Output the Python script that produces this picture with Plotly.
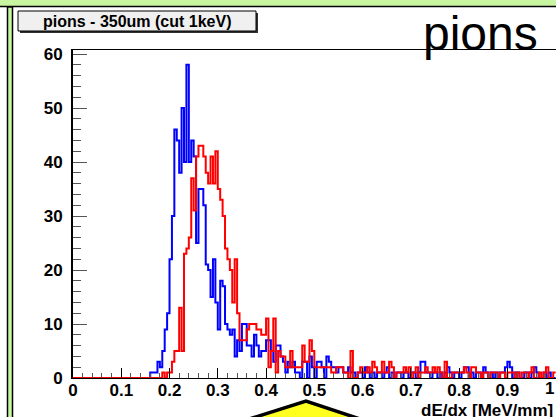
import plotly.graph_objects as go

# ---------------- data ----------------
bin_width = 0.005
n_bins = 200
x_ticks = [0, 0.1, 0.2, 0.3, 0.4, 0.5, 0.6, 0.7, 0.8, 0.9, 1]
x_tick_labels = ["0", "0.1", "0.2", "0.3", "0.4", "0.5", "0.6", "0.7", "0.8", "0.9", "1"]
y_ticks = [0, 10, 20, 30, 40, 50, 60]
y_tick_labels = ["0", "10", "20", "30", "40", "50", "60"]

blue_counts = (
    [0] * 32 +
    [1, 1, 1, 3, 2, 5, 9, 12, 22, 30, 46, 44, 38, 50, 40, 58, 40, 44,    # 32-49
     41, 25, 35, 35, 32, 21, 20, 15, 22, 14, 9, 18, 17, 10, 9, 8, 9, 4, 7, 5,   # 50-69
     10, 10, 6, 6, 4, 8, 6, 4, 5, 5, 7, 7, 5, 3, 6, 6, 4, 3, 1, 3,   # 70-89
     2, 3, 1, 1, 0, 3, 3, 0, 4, 2, 0, 3, 3, 2, 0, 4, 3, 2, 2, 1,    # 90-109
     2, 2, 1, 1, 2, 1, 1, 0, 1, 1, 0, 2, 1, 0, 1, 0, 1, 1, 0, 1,    # 110-129
     2, 0, 1, 0, 1, 1, 0, 1, 1, 0, 1, 1, 0, 1, 3, 3, 1, 1, 0, 1,    # 130-149
     1, 0, 1, 0, 1, 2, 1, 0, 1, 1, 0, 1, 2, 2, 0, 1, 0, 1, 1, 0,    # 150-169
     2, 1, 0, 1, 0, 1, 0, 1, 1, 2, 3, 2, 0, 1, 1, 0, 0, 1, 1, 0,    # 170-189
     1, 2, 1, 0, 0, 1, 0, 1, 0, 0]                                   # 190-199
)

red_counts = (
    [0] * 36 +
    [0, 1, 0, 1,                                                     # 36-39
     1, 3, 5, 5, 13, 5, 23, 24, 26, 37, 31, 41, 43, 43, 41, 38, 36, 41, 36, 42,   # 40-59
     35, 33, 30, 24, 22, 20, 14, 22, 12, 7, 7, 7, 9, 10, 10, 10, 9, 9, 8, 8,       # 60-79
     11, 2, 5, 11, 1, 5, 4, 4, 2, 2, 5, 2, 2, 2, 2, 6, 3, 3, 7, 5,    # 80-99
     2, 2, 2, 2, 2, 2, 2, 1, 1, 2, 2, 2, 1, 1, 0, 5, 0, 0, 1, 2,      # 100-119
     1, 1, 2, 1, 3, 2, 1, 1, 3, 1, 1, 3, 2, 0, 1, 1, 1, 2, 1, 2,      # 120-139
     0, 1, 2, 0, 1, 1, 2, 1, 1, 2, 1, 2, 1, 0, 3, 0, 0, 1, 1, 1,      # 140-159
     1, 1, 2, 1, 0, 2, 2, 1, 1, 0, 1, 1, 0, 1, 1, 1, 0, 1, 1, 0,      # 160-179
     1, 1, 1, 0, 1, 0, 1, 1, 0, 1, 2, 0, 0, 1, 0, 1, 2, 0, 0, 1]      # 180-199
)

title_text = "pions - 350um (cut 1keV)"
label_text = "pions"
x_title = "dE/dx [MeV/mm]"

# ---------------- geometry helpers (pixel -> paper) ----------------
W, H = 556, 417
L, R, T, B = 73, 0, 50, 39
PW, PH = W - L - R, H - T - B


def px(X):
    return (X - L) / PW


def py(Y):
    return (H - B - Y) / PH


edges = [i * bin_width for i in range(n_bins + 1)]

fig = go.Figure()
for counts, col in ((blue_counts, "#0000ff"), (red_counts, "#ff0000")):
    fig.add_trace(go.Scatter(
        x=edges, y=list(counts) + [counts[-1]], mode="lines",
        line=dict(color=col, width=2, shape="hv"), showlegend=False,
        hoverinfo="skip"))

tick_font = dict(family="Liberation Sans", size=17, color="black", weight="bold")

# the last label sits on the page edge; it is drawn as an annotation so it stays inside the page
shown_x_labels = x_tick_labels[:-1] + [""]

fig.update_layout(
    width=W, height=H,
    margin=dict(l=L, r=R, t=T, b=B, pad=0),
    paper_bgcolor="white", plot_bgcolor="white",
    xaxis=dict(range=[0, 1.0008], tickvals=x_ticks, ticktext=shown_x_labels,
               showgrid=False, zeroline=False, showline=True, linecolor="black",
               linewidth=1, mirror=True, ticks="inside", ticklen=10, tickcolor="black",
               tickwidth=1, tickfont=tick_font, ticklabelstandoff=-3,
               minor=dict(dtick=0.02, ticks="inside", ticklen=5, tickcolor="#555555", showgrid=False)),
    yaxis=dict(range=[0, 60.74], tickvals=y_ticks, ticktext=y_tick_labels,
               showgrid=False, zeroline=False, showline=True, linecolor="black",
               linewidth=2, ticks="inside", ticklen=14, tickcolor="#555555",
               tickwidth=1, tickfont=tick_font, ticklabelstandoff=5,
               minor=dict(dtick=2, ticks="inside", ticklen=8, tickcolor="#555555", showgrid=False)),
)

green = "#c8f5a0"
shapes = [
    # top green band
    dict(type="rect", xref="paper", yref="paper", x0=px(-5), x1=px(W + 5), y0=py(-5), y1=py(6),
         fillcolor=green, line=dict(width=0), layer="above"),
    dict(type="line", xref="paper", yref="paper", x0=px(0), x1=px(W + 5), y0=py(6.5), y1=py(6.5),
         line=dict(color="black", width=1.5), layer="above"),
    # left green strip
    dict(type="rect", xref="paper", yref="paper", x0=px(7.5), x1=px(12.5), y0=py(7), y1=py(H + 5),
         fillcolor=green, line=dict(color="black", width=1.5), layer="above"),
    # title box shadow + box
    dict(type="rect", xref="paper", yref="paper", x0=px(20), x1=px(258), y0=py(13), y1=py(33),
         fillcolor="#303030", line=dict(width=0), layer="above"),
    dict(type="rect", xref="paper", yref="paper", x0=px(18), x1=px(256), y0=py(11), y1=py(31),
         fillcolor="#f0f0f0", line=dict(color="black", width=1), layer="above"),
    # yellow triangle
    dict(type="path", xref="paper", yref="paper",
         path=f"M {px(243)} {py(421)} L {px(306)} {py(401)} L {px(366)} {py(421)} Z",
         fillcolor="#ffff20", line=dict(color="black", width=3.5), layer="above"),
]
fig.update_layout(shapes=shapes)

fig.add_annotation(text=f"<b>{x_tick_labels[-1]}</b>", xref="paper", yref="paper",
                   x=px(556), y=py(388), xanchor="right", yanchor="middle", showarrow=False,
                   font=dict(family="Liberation Sans", size=17, color="black"))
fig.add_annotation(text=f"<b>{title_text}</b>", xref="paper", yref="paper",
                   x=px(137), y=py(21.5), xanchor="center", yanchor="middle", showarrow=False,
                   font=dict(family="Liberation Sans", size=16, color="black"))
fig.add_annotation(text=label_text, xref="paper", yref="paper",
                   x=px(480), y=py(33), xanchor="center", yanchor="middle", showarrow=False,
                   font=dict(family="Liberation Sans", size=48, color="black"))
fig.add_annotation(text=f"<b>{x_title}</b>", xref="paper", yref="paper",
                   x=px(555), y=py(410), xanchor="right", yanchor="middle", showarrow=False,
                   font=dict(family="Liberation Sans", size=17, color="black"))

fig.write_html("out.html", config={"displayModeBar": False},
               post_script="document.body.style.margin='0px';document.body.style.overflow='hidden';")
